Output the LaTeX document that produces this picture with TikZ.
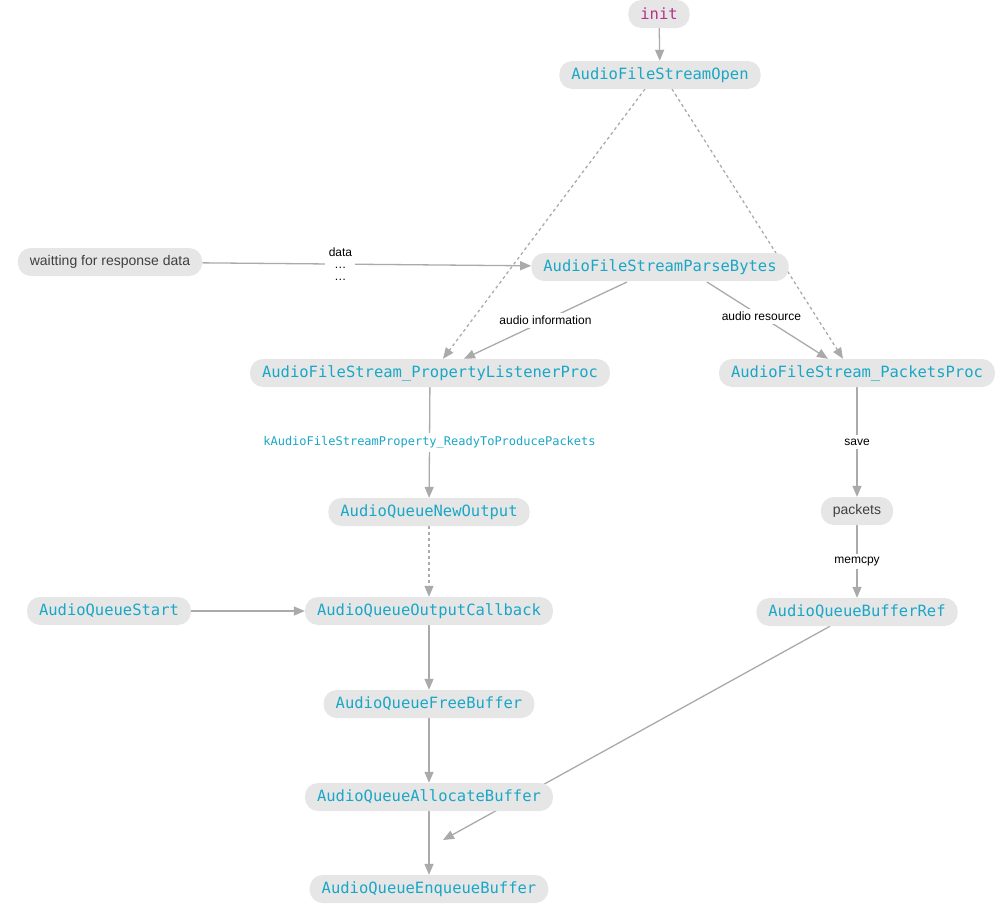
\documentclass[tikz,border=0pt]{standalone}
\usepackage{fontspec}
\setmainfont{Liberation Sans}
\setmonofont{DejaVu Sans Mono}
\usetikzlibrary{arrows.meta,backgrounds}
\definecolor{boxgray}{HTML}{E6E6E6}
\definecolor{fncyan}{HTML}{1AA7C6}
\definecolor{kwpink}{HTML}{B5338A}
\definecolor{linegray}{HTML}{AAAAAA}

\tikzset{
	fn/.style={rounded corners=13pt, fill=boxgray, minimum height=28pt, inner xsep=12pt,
		font=\fontsize{15.5}{18}\selectfont\ttfamily, text=fncyan},
	txt/.style={rounded corners=13pt, fill=boxgray, minimum height=28pt, inner xsep=12pt,
		font=\fontsize{14}{16}\selectfont, text=black!75},
	lbl/.style={fill=white, font=\fontsize{12}{15}\selectfont, text=black, align=center},
	flow/.style={draw=linegray, line width=1.3pt, -{Triangle[length=11pt,width=9pt]}},
	weak/.style={flow, dashed}
}

\begin{document}
\begin{tikzpicture}[x=1pt,y=-1pt]
	\useasboundingbox (0,0) rectangle (1006,905);

	%functions
	\node[fn, text=kwpink] (init) at (659,14) {init};
	\node[fn] (open) at (660,75) {AudioFileStreamOpen};
	\node[txt] (wait) at (110,262) {waitting for response data};
	\node[fn] (parse) at (660,267) {AudioFileStreamParseBytes};
	\node[fn] (prop) at (430,373) {AudioFileStream\_PropertyListenerProc};
	\node[fn] (pkproc) at (857,373) {AudioFileStream\_PacketsProc};
	\node[fn] (newout) at (429,512) {AudioQueueNewOutput};
	\node[txt] (packets) at (857,511) {packets};
	\node[fn] (start) at (109,611) {AudioQueueStart};
	\node[fn] (outcb) at (429,611) {AudioQueueOutputCallback};
	\node[fn] (bufref) at (857,612) {AudioQueueBufferRef};
	\node[fn] (free) at (429,704) {AudioQueueFreeBuffer};
	\node[fn] (alloc) at (429,797) {AudioQueueAllocateBuffer};
	\node[fn] (enq) at (429,889) {AudioQueueEnqueueBuffer};
	\coordinate (merge) at (443,840);

	%connections
	\begin{scope}[on background layer]
		\draw[flow] (init) -- (open);
		\draw[weak] (645,89) -- (prop.north -| 443,0);
		\draw[weak] (672,89) -- (pkproc.north -| 843,0);
		\draw[flow] (wait) -- node[lbl, pos=0.42] {data\\[-3pt]…\\[-3pt]…} (parse);
		\draw[flow] (627,282) -- node[lbl, pos=0.5] {audio information} (prop.north -| 464,0);
		\draw[flow] (707,282) -- node[lbl, pos=0.45] {audio resource} (pkproc.north -| 828,0);
		\draw[flow] (prop) -- node[lbl, font=\fontsize{12}{15}\selectfont\ttfamily, text=fncyan] {kAudioFileStreamProperty\_ReadyToProducePackets} (newout);
		\draw[flow] (pkproc) -- node[lbl] {save} (packets);
		\draw[flow] (packets) -- node[lbl] {memcpy} (bufref);
		\draw[weak] (newout) -- (outcb);
		\draw[flow] (start) -- (outcb);
		\draw[flow] (outcb) -- (free);
		\draw[flow] (free) -- (alloc);
		\draw[flow] (alloc) -- (enq);
		\draw[flow] (bufref.south -| 830,0) -- (merge);
	\end{scope}
\end{tikzpicture}
\end{document}
